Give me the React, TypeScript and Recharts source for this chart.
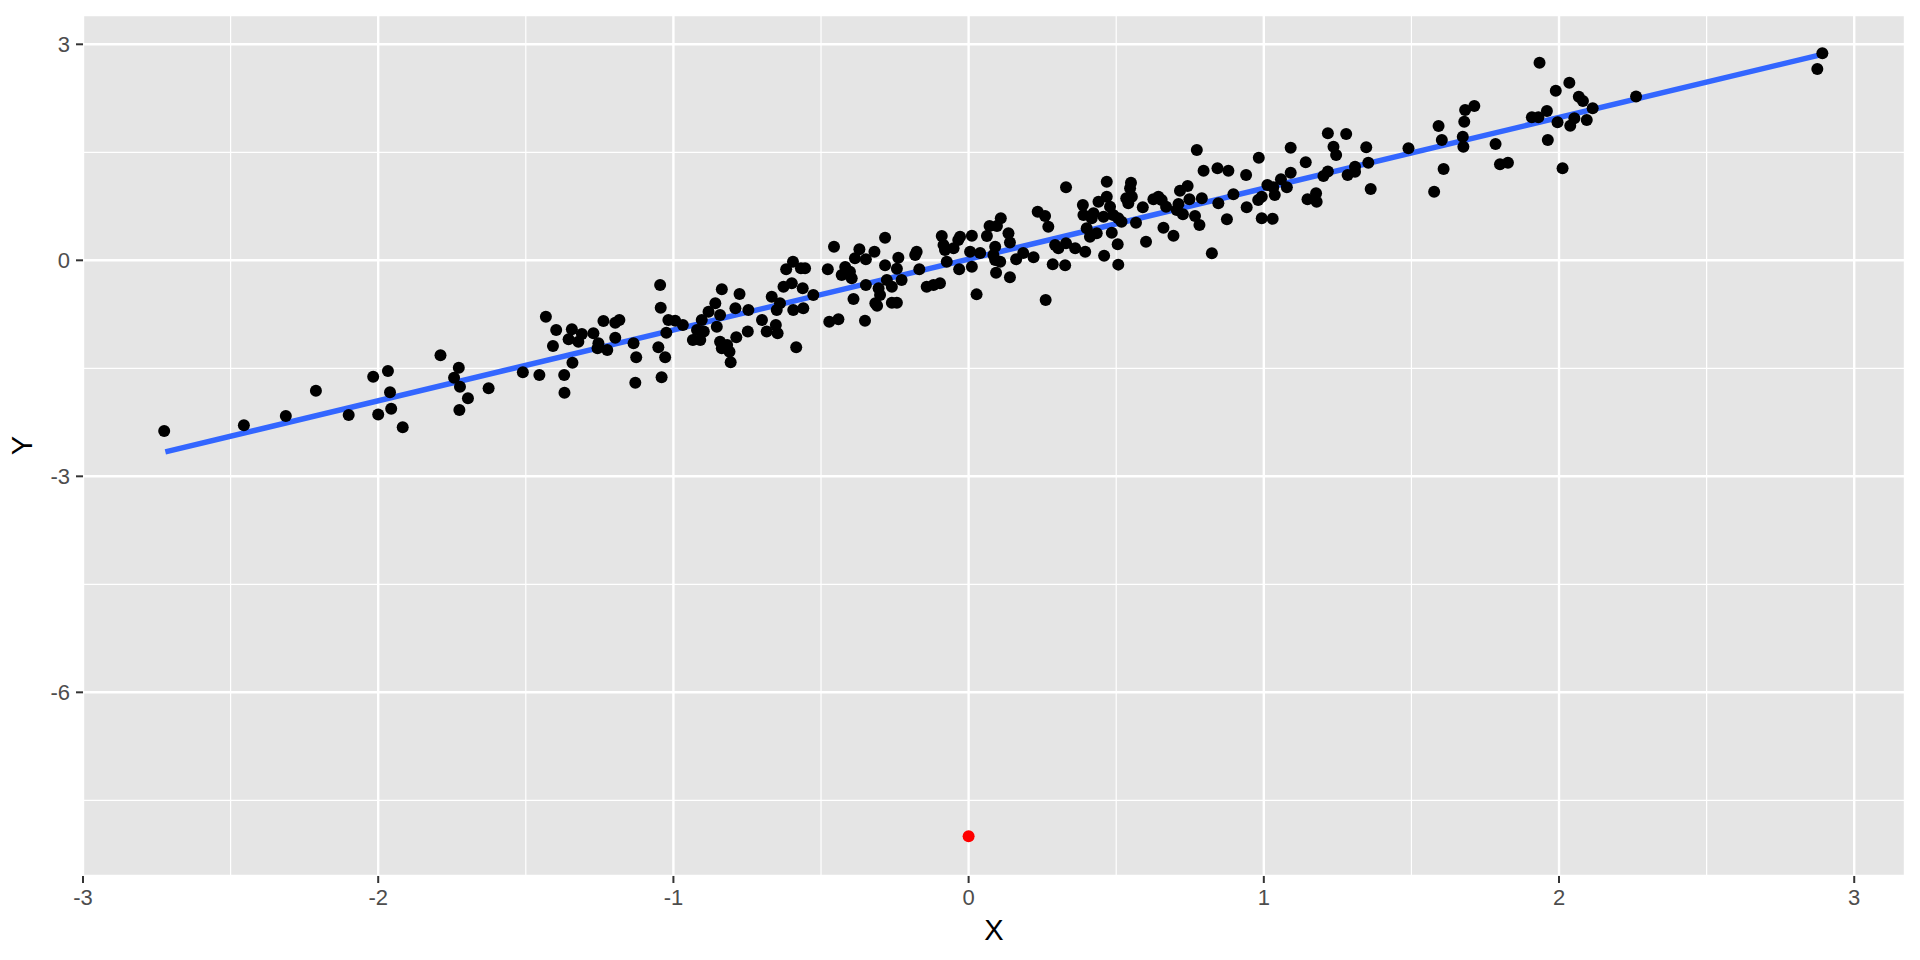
import React from "react";
import { ScatterChart, Scatter, XAxis, YAxis, CartesianGrid, Label } from "recharts";

const ptX = [
  -2.725, -2.455, -2.313, -2.211, -2.1, -2.017, -2.0, -1.967, -1.96, -1.956, -1.917, -1.789, -1.727, -1.743, -1.723, -1.696, -1.725, -1.626,
  -1.51, -1.454, -1.432, -1.397, -1.408, -1.37, -1.369, -1.344, -1.355, -1.322, -1.31, -1.342, -1.271, -1.237, -1.254, -1.257, -1.224, -1.197,
  -1.183, -1.197, -1.135, -1.126, -1.129, -1.045, -1.043, -1.051, -1.028, -1.04, -1.024, -1.017, -0.994, -0.968, -0.934, -0.909, -0.904, -0.92,
  -0.897, -0.881, -0.858, -0.836, -0.842, -0.853, -0.842, -0.836, -0.81, -0.806, -0.818, -0.776, -0.787, -0.79, -0.746, -0.748, -0.7, -0.667,
  -0.684, -0.647, -0.653, -0.65, -0.639, -0.627, -0.618, -0.595, -0.599, -0.594, -0.584,
  -0.568, -0.554, -0.562, -0.526, -0.56, -0.477, -0.456, -0.472, -0.441, -0.418, -0.43, -0.402, -0.396, -0.39, -0.385, -0.37, -0.351, -0.348,
  -0.348, -0.319, -0.283, -0.283, -0.305, -0.3, -0.316, -0.31, -0.26, -0.26, -0.243, -0.243, -0.238, -0.227, -0.277, -0.181, -0.176, -0.167,
  -0.142, -0.119, -0.097, -0.091, -0.085, -0.08, -0.074, -0.051, -0.035, -0.029, -0.032, 0.011, 0.005, 0.011, 0.039, 0.027, 0.062, 0.071,
  0.096, 0.109, 0.09, 0.084, 0.09, 0.107, 0.093, 0.135, 0.14, 0.14, 0.161, 0.185, 0.22, 0.234, 0.259, 0.27, 0.261, 0.285, 0.327, 0.293, 0.304,
  0.33, 0.387, 0.389, 0.423, 0.417, 0.44, 0.468, 0.468, 0.479, 0.457, 0.49, 0.507, 0.518, 0.4, 0.411, 0.434, 0.485, 0.505, 0.33, 0.361, 0.395,
  0.459, 0.507, 0.55, 0.547, 0.534, 0.553, 0.541, 0.567, 0.59, 0.601, 0.626, 0.643, 0.654, 0.669, 0.66, 0.694, 0.711, 0.705, 0.726, 0.716,
  0.742, 0.748, 0.767, 0.782, 0.773, 0.796, 0.79, 0.824, 0.843, 0.88, 0.846, 0.875, 0.897, 0.94, 0.942, 0.983, 0.993, 1.03, 0.981, 0.993,
  1.012, 1.032, 1.037, 1.058, 1.078, 1.091, 1.091, 1.142, 1.148, 1.177, 1.179, 1.202, 1.217, 1.217, 1.236, 1.245, 1.279, 1.284, 1.309, 1.309,
  1.347, 1.354, 1.362, 1.49, 1.592, 1.603, 1.609, 1.577, 1.682, 1.713, 1.679, 1.674, 1.676, 1.785, 1.8, 1.827, 1.934, 1.908, 1.93, 1.959,
  1.962, 1.989, 1.995, 2.012, 2.035, 2.067, 2.081, 2.052, 2.038, 2.094, 2.114, 2.261, 2.892, 2.875,
];
const ptY = [
  -2.371, -2.292, -2.163, -1.811, -2.149, -1.616, -2.14, -1.537, -1.834, -2.061, -2.32, -1.32, -1.491, -1.63, -1.755, -1.917, -2.079, -1.778,
  -1.556, -1.593, -0.783, -0.968, -1.19, -1.593, -1.839, -0.959, -1.097, -1.13, -1.023, -1.422, -1.014, -0.843, -1.153, -1.222, -1.246, -0.866,
  -0.829, -1.075, -1.153, -1.347, -1.7, -0.343, -0.658, -1.208, -1.347, -1.625, -1.005, -0.829, -0.838, -0.898, -1.107, -1.107, -0.829, -0.968,
  -0.99, -0.713, -0.597, -0.403, -0.759, -0.922, -1.13, -1.222, -1.269, -1.417, -1.176, -0.468, -1.069, -0.666, -0.689, -0.99, -0.829, -0.505,
  -0.99, -1.014, -0.898, -0.689, -0.597, -0.366, -0.125, -0.019, -0.32, -0.689, -1.208,
  -0.111, -0.111, -0.389, -0.482, -0.667, -0.125, 0.189, -0.852, -0.82, -0.093, -0.204, -0.158, -0.25, -0.537, 0.028, 0.153, -0.838, 0.014,
  -0.342, 0.12, 0.314, -0.07, -0.389, -0.482, -0.597, -0.63, -0.366, -0.588, -0.588, -0.116, 0.037, -0.273, -0.273, 0.074, 0.12, -0.125,
  -0.366, -0.342, -0.319, 0.338, 0.212, 0.143, -0.019, 0.166, 0.282, 0.328, -0.125, 0.342, 0.12, -0.088, 0.1, -0.473, 0.338, 0.476,
  0.476, 0.583, 0.189, 0.074, 0.005, -0.019, -0.172, 0.375, 0.246, -0.236, 0.014, 0.1, 0.042, 0.675, 0.614, 0.467, -0.551, -0.056, -0.07, 0.212, 0.166,
  1.014, 0.768, 0.629, 0.652, 0.583, 0.814, 1.092, 0.884, 0.745, 0.606, 0.629, 0.583, 0.537, 0.444, 0.328, 0.375, 0.383, 0.222, 0.236, 0.167, 0.12,
  0.064, -0.06, 1.078, 1.0, 0.861, 0.884, 0.792, 0.522, 0.736, 0.258, 0.847, 0.884, 0.838, 0.745, 0.453, 0.342, 0.782, 0.699, 0.639, 0.967,
  1.032, 0.847, 0.615, 0.49, 1.532, 1.244, 0.861, 0.097, 1.278, 1.244, 0.792, 0.569, 0.917, 1.185, 0.736, 1.425, 0.583, 0.576, 0.838, 0.884,
  1.046, 1.014, 0.907, 1.125, 1.014, 1.217, 1.564, 1.361, 0.847, 0.93, 0.814, 1.171, 1.232, 1.764, 1.578, 1.463, 1.755, 1.185, 1.3, 1.23,
  1.569, 1.356, 0.99, 1.556, 1.865, 1.671, 1.268, 0.953, 2.088, 2.143, 1.925, 1.717, 1.578, 1.615, 1.333, 1.356, 2.745, 1.986, 1.986, 2.074,
  1.671, 2.356, 1.917, 1.278, 2.467, 2.272, 2.213, 1.972, 1.87, 1.949, 2.111, 2.275, 2.875, 2.657,
];

// the outlier drawn in red
const outX = [0];
const outY = [-8];

// ends of the fitted line
const fitX = [-2.721, 2.892];
const fitY = [-2.66, 2.86];

const xTicks = [-3, -2, -1, 0, 1, 2, 3];
const yTicks = [-6, -3, 0, 3];
const xMinor = [-2.5, -1.5, -0.5, 0.5, 1.5, 2.5];
const yMinor = [-7.5, -4.5, -1.5, 1.5];
const xDomain = [-3.0, 3.172];
const yDomain = [-8.551, 3.407];

const points = ptX.map((x, i) => ({ x, y: ptY[i] }));
const outliers = outX.map((x, i) => ({ x, y: outY[i] }));
const fit = fitX.map((x, i) => ({ x, y: fitY[i] }));

const FONT = "'Liberation Sans', Arial, Helvetica, sans-serif";
const tickStyle = { fill: "#4D4D4D", fontSize: 22, fontFamily: FONT };
const tickLine = { stroke: "#333333", strokeWidth: 2 };

const Dot = (color: string) => (props: any) =>
  <circle cx={props.cx} cy={props.cy} r={6} fill={color} />;

export default function App() {
  return (
    <div style={{ position: "absolute", left: 0, top: 0, width: 1920, height: 960, background: "#fff" }}>
      <ScatterChart width={1920} height={960} margin={{ top: 15, right: 15, left: 0, bottom: 0 }}>
        <XAxis xAxisId="minor" type="number" dataKey="x" domain={xDomain} ticks={xMinor} allowDataOverflow hide />
        <YAxis yAxisId="minor" type="number" dataKey="y" domain={yDomain} ticks={yMinor} allowDataOverflow hide />
        <CartesianGrid xAxisId="minor" yAxisId="minor" fill="#E5E5E5" stroke="#FFFFFF" strokeWidth={1.2} />
        <CartesianGrid stroke="#FFFFFF" strokeWidth={2.4} />
        <XAxis
          type="number"
          dataKey="x"
          domain={xDomain}
          ticks={xTicks}
          allowDataOverflow
          height={84}
          axisLine={false}
          tickLine={tickLine}
          tickSize={7}
          tickMargin={6}
          tick={tickStyle}
        >
          <Label
            content={({ viewBox }: any) => (
              <text
                x={viewBox.x + viewBox.width / 2}
                y={viewBox.y + 54}
                textAnchor="middle"
                dominantBaseline="central"
                fontSize={29}
                fontFamily={FONT}
                fill="#000"
              >
                X
              </text>
            )}
          />
        </XAxis>
        <YAxis
          type="number"
          dataKey="y"
          domain={yDomain}
          ticks={yTicks}
          allowDataOverflow
          width={83}
          axisLine={false}
          tickLine={tickLine}
          tickSize={7}
          tickMargin={6}
          tick={tickStyle}
        >
          <Label
            content={({ viewBox }: any) => {
              const cy = viewBox.y + viewBox.height / 2;
              return (
                <text
                  x={22}
                  y={cy}
                  transform={`rotate(-90 22 ${cy})`}
                  textAnchor="middle"
                  dominantBaseline="central"
                  fontSize={29}
                  fontFamily={FONT}
                  fill="#000"
                >
                  Y
                </text>
              );
            }}
          />
        </YAxis>
        <Scatter
          data={fit}
          line={{ stroke: "#3366FF", strokeWidth: 5.5 }}
          shape={() => <g />}
          isAnimationActive={false}
        />
        <Scatter data={points} shape={Dot("#000000")} isAnimationActive={false} />
        <Scatter data={outliers} shape={Dot("#FF0000")} isAnimationActive={false} />
      </ScatterChart>
    </div>
  );
}
